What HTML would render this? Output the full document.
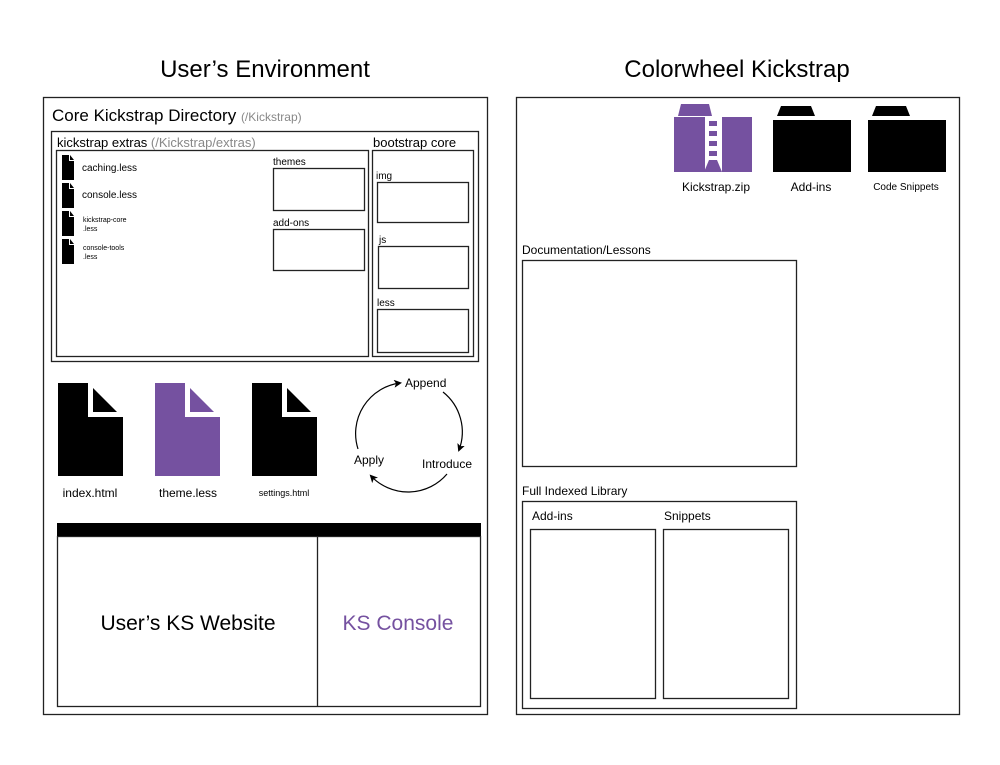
<!DOCTYPE html>
<html><head><meta charset="utf-8"><style>
html,body{margin:0;padding:0;background:#fff;}
svg{display:block;}
text{font-family:"Liberation Sans",sans-serif;fill:#000;}
</style></head><body>
<svg width="1000" height="765" viewBox="0 0 1000 765" xmlns="http://www.w3.org/2000/svg">
<defs>
<marker id="ah" markerWidth="8" markerHeight="8" refX="6" refY="4" orient="auto" markerUnits="userSpaceOnUse"><path d="M0,0 L8,4 L0,8 L2,4 Z" fill="#000"/></marker>
<g id="sf"><path d="M0,0 H7 V6 H12 V25 H0 Z" fill="#000"/><path d="M8,0 L12,5 H8 Z" fill="#000"/></g>
</defs>
<g fill="none" stroke="#222" stroke-width="1.3">
<rect x="43.5" y="97.5" width="444" height="617"/>
<rect x="516.5" y="97.5" width="443" height="617"/>
<rect x="51.5" y="131.5" width="427" height="230"/>
<rect x="56.5" y="150.5" width="312" height="206"/>
<rect x="372.5" y="150.5" width="101" height="206"/>
<rect x="273.5" y="168.5" width="91" height="42"/>
<rect x="273.5" y="229.5" width="91" height="41"/>
<rect x="377.5" y="182.5" width="91" height="40"/>
<rect x="378.5" y="246.5" width="90" height="42"/>
<rect x="377.5" y="309.5" width="91" height="43"/>
<rect x="57.5" y="536.5" width="423" height="170"/>
<line x1="317.5" y1="536" x2="317.5" y2="706"/>
<rect x="522.5" y="260.5" width="274" height="206"/>
<rect x="522.5" y="501.5" width="274" height="207"/>
<rect x="530.5" y="529.5" width="125" height="169"/>
<rect x="663.5" y="529.5" width="125" height="169"/>
</g>
<rect x="57" y="523" width="424" height="13" fill="#000"/>
<text x="265" y="77" font-size="24" text-anchor="middle">User’s Environment</text>
<text x="737" y="77" font-size="24" text-anchor="middle">Colorwheel Kickstrap</text>
<text x="52" y="121" font-size="17">Core Kickstrap Directory <tspan font-size="12" fill="#888">(/Kickstrap)</tspan></text>
<text x="57" y="147" font-size="13">kickstrap extras <tspan fill="#888">(/Kickstrap/extras)</tspan></text>
<text x="373" y="147" font-size="13">bootstrap core</text>
<text x="273" y="165" font-size="10">themes</text>
<text x="273" y="226" font-size="10">add-ons</text>
<text x="376" y="179" font-size="10">img</text>
<text x="379" y="243" font-size="10">js</text>
<text x="377" y="306" font-size="10">less</text>
<use href="#sf" x="62" y="155"/>
<use href="#sf" x="62" y="183"/>
<use href="#sf" x="62" y="211"/>
<use href="#sf" x="62" y="239"/>
<text x="82" y="171" font-size="10">caching.less</text>
<text x="82" y="198" font-size="10">console.less</text>
<text x="83" y="222" font-size="7">kickstrap-core</text>
<text x="83" y="231" font-size="7">.less</text>
<text x="83" y="250" font-size="7">console-tools</text>
<text x="83" y="259" font-size="7">.less</text>
<!-- big files -->
<g><path d="M58,383 H88 V417 H123 V476 H58 Z" fill="#000"/><path d="M93,388 L117,412 H93 Z" fill="#000"/></g>
<g><path d="M155,383 H185 V417 H220 V476 H155 Z" fill="#7551a0"/><path d="M190,388 L214,412 H190 Z" fill="#7551a0"/></g>
<g><path d="M252,383 H282 V417 H317 V476 H252 Z" fill="#000"/><path d="M287,388 L311,412 H287 Z" fill="#000"/></g>
<text x="90" y="497" font-size="12" text-anchor="middle">index.html</text>
<text x="188" y="497" font-size="12" text-anchor="middle">theme.less</text>
<text x="284" y="496" font-size="9" text-anchor="middle">settings.html</text>
<!-- cycle -->
<g fill="none" stroke="#000" stroke-width="1.2">
<path d="M358,449 A51,51 0 0 1 400,383" marker-end="url(#ah)"/>
<path d="M443,392 A51,51 0 0 1 459,450" marker-end="url(#ah)"/>
<path d="M447,474 A51,51 0 0 1 371,476" marker-end="url(#ah)"/>
</g>
<text x="405" y="387" font-size="12">Append</text>
<text x="422" y="468" font-size="12">Introduce</text>
<text x="354" y="464" font-size="12">Apply</text>
<text x="188" y="630" font-size="21" text-anchor="middle">User’s KS Website</text>
<text x="398" y="630" font-size="21" text-anchor="middle" style="fill:#7551a0">KS Console</text>
<!-- right icons -->
<g fill="#7551a0">
<path d="M681,104 H709 L712,116 H678 Z"/>
<rect x="674" y="117" width="31" height="55"/>
<rect x="722" y="117" width="30" height="55"/>
<path d="M709,160 H717 L722,172 H704 Z"/>
<rect x="709" y="121" width="8" height="5"/>
<rect x="709" y="131" width="8" height="5"/>
<rect x="709" y="141" width="8" height="5"/>
<rect x="709" y="151" width="8" height="5"/>
</g>
<g fill="#000">
<path d="M781,106 H811 L815,116 H777 Z"/>
<rect x="773" y="120" width="78" height="52"/>
<path d="M876,106 H906 L910,116 H872 Z"/>
<rect x="868" y="120" width="78" height="52"/>
</g>
<text x="716" y="191" font-size="12" text-anchor="middle">Kickstrap.zip</text>
<text x="811" y="191" font-size="12" text-anchor="middle">Add-ins</text>
<text x="906" y="190" font-size="10" text-anchor="middle">Code Snippets</text>
<text x="522" y="254" font-size="12">Documentation/Lessons</text>
<text x="522" y="495" font-size="12">Full Indexed Library</text>
<text x="532" y="520" font-size="12">Add-ins</text>
<text x="664" y="520" font-size="12">Snippets</text>
</svg>
</body></html>
